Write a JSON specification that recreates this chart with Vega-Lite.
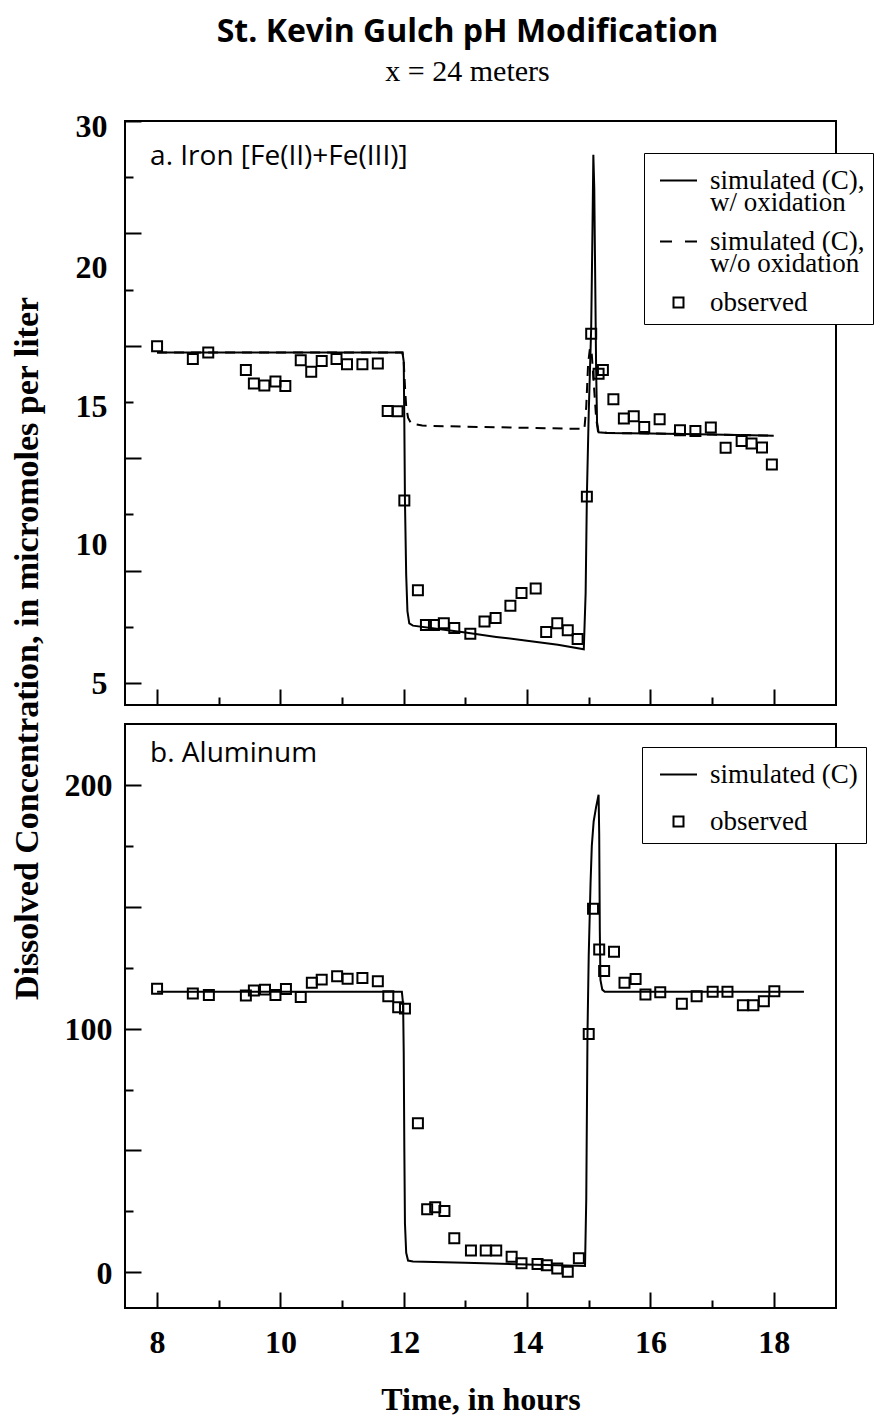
{
  "$schema": "https://vega.github.io/schema/vega-lite/v6.json",
  "background": "white",
  "padding": {"left": 8, "right": 0, "top": 16, "bottom": 5},
  "bounds": "flush",
  "resolve": {"scale": {"shape": "independent"}, "legend": {"shape": "independent"}},
  "title": {
    "text": "St. Kevin Gulch pH Modification",
    "subtitle": "x = 24 meters",
    "anchor": "middle",
    "frame": "group",
    "dx": -13,
    "font": "Open Sans",
    "fontSize": 32,
    "fontWeight": "bold",
    "color": "black",
    "subtitleFont": "Liberation Serif",
    "subtitleFontSize": 30,
    "subtitleColor": "black",
    "subtitlePadding": 8,
    "offset": 21
  },
  "datasets": {
    "fe_sim": [
      {"t": 8, "v": 19.7, "s": "w/ oxidation"},
      {"t": 9, "v": 19.7, "s": "w/ oxidation"},
      {"t": 10, "v": 19.7, "s": "w/ oxidation"},
      {"t": 11, "v": 19.7, "s": "w/ oxidation"},
      {"t": 11.98, "v": 19.7, "s": "w/ oxidation"},
      {"t": 12.0, "v": 19.3, "s": "w/ oxidation"},
      {"t": 12.01, "v": 16.5, "s": "w/ oxidation"},
      {"t": 12.02, "v": 13.1, "s": "w/ oxidation"},
      {"t": 12.04, "v": 9.8, "s": "w/ oxidation"},
      {"t": 12.06, "v": 8.2, "s": "w/ oxidation"},
      {"t": 12.09, "v": 7.65, "s": "w/ oxidation"},
      {"t": 12.15, "v": 7.55, "s": "w/ oxidation"},
      {"t": 12.5, "v": 7.42, "s": "w/ oxidation"},
      {"t": 13, "v": 7.25, "s": "w/ oxidation"},
      {"t": 13.5, "v": 7.05, "s": "w/ oxidation"},
      {"t": 14, "v": 6.88, "s": "w/ oxidation"},
      {"t": 14.5, "v": 6.7, "s": "w/ oxidation"},
      {"t": 14.92, "v": 6.5, "s": "w/ oxidation"},
      {"t": 14.95, "v": 9.0, "s": "w/ oxidation"},
      {"t": 14.97, "v": 13.3, "s": "w/ oxidation"},
      {"t": 15.0, "v": 17.0, "s": "w/ oxidation"},
      {"t": 15.04, "v": 20.8, "s": "w/ oxidation"},
      {"t": 15.06, "v": 25.0, "s": "w/ oxidation"},
      {"t": 15.075, "v": 28.5, "s": "w/ oxidation"},
      {"t": 15.09, "v": 27.0, "s": "w/ oxidation"},
      {"t": 15.105, "v": 23.0, "s": "w/ oxidation"},
      {"t": 15.12, "v": 19.0, "s": "w/ oxidation"},
      {"t": 15.135, "v": 16.6, "s": "w/ oxidation"},
      {"t": 15.16, "v": 16.15, "s": "w/ oxidation"},
      {"t": 15.3, "v": 16.12, "s": "w/ oxidation"},
      {"t": 16, "v": 16.1, "s": "w/ oxidation"},
      {"t": 17, "v": 16.05, "s": "w/ oxidation"},
      {"t": 18, "v": 16.0, "s": "w/ oxidation"},
      {"t": 8, "v": 19.7, "s": "w/o oxidation"},
      {"t": 11.98, "v": 19.7, "s": "w/o oxidation"},
      {"t": 12.0, "v": 19.3, "s": "w/o oxidation"},
      {"t": 12.02, "v": 18.2, "s": "w/o oxidation"},
      {"t": 12.04, "v": 17.3, "s": "w/o oxidation"},
      {"t": 12.07, "v": 16.8, "s": "w/o oxidation"},
      {"t": 12.12, "v": 16.55, "s": "w/o oxidation"},
      {"t": 12.3, "v": 16.45, "s": "w/o oxidation"},
      {"t": 13, "v": 16.4, "s": "w/o oxidation"},
      {"t": 14, "v": 16.35, "s": "w/o oxidation"},
      {"t": 14.93, "v": 16.3, "s": "w/o oxidation"},
      {"t": 14.96, "v": 17.3, "s": "w/o oxidation"},
      {"t": 14.99, "v": 19.2, "s": "w/o oxidation"},
      {"t": 15.02, "v": 19.9, "s": "w/o oxidation"},
      {"t": 15.05, "v": 19.6, "s": "w/o oxidation"},
      {"t": 15.09, "v": 18.0, "s": "w/o oxidation"},
      {"t": 15.12, "v": 16.8, "s": "w/o oxidation"},
      {"t": 15.15, "v": 16.2, "s": "w/o oxidation"},
      {"t": 15.3, "v": 16.12, "s": "w/o oxidation"},
      {"t": 16, "v": 16.1, "s": "w/o oxidation"},
      {"t": 17, "v": 16.05, "s": "w/o oxidation"},
      {"t": 18, "v": 16.0, "s": "w/o oxidation"}
    ],
    "fe_obs": [
      {"t": 8.0, "v": 19.98, "s": "observed"},
      {"t": 8.58, "v": 19.41, "s": "observed"},
      {"t": 8.83, "v": 19.7, "s": "observed"},
      {"t": 9.44, "v": 18.92, "s": "observed"},
      {"t": 9.57, "v": 18.32, "s": "observed"},
      {"t": 9.74, "v": 18.23, "s": "observed"},
      {"t": 9.92, "v": 18.41, "s": "observed"},
      {"t": 10.08, "v": 18.21, "s": "observed"},
      {"t": 10.33, "v": 19.36, "s": "observed"},
      {"t": 10.5, "v": 18.84, "s": "observed"},
      {"t": 10.67, "v": 19.32, "s": "observed"},
      {"t": 10.91, "v": 19.41, "s": "observed"},
      {"t": 11.08, "v": 19.18, "s": "observed"},
      {"t": 11.33, "v": 19.18, "s": "observed"},
      {"t": 11.58, "v": 19.21, "s": "observed"},
      {"t": 11.74, "v": 17.1, "s": "observed"},
      {"t": 11.9, "v": 17.09, "s": "observed"},
      {"t": 12.01, "v": 13.12, "s": "observed"},
      {"t": 12.23, "v": 9.12, "s": "observed"},
      {"t": 12.36, "v": 7.58, "s": "observed"},
      {"t": 12.49, "v": 7.58, "s": "observed"},
      {"t": 12.65, "v": 7.66, "s": "observed"},
      {"t": 12.82, "v": 7.45, "s": "observed"},
      {"t": 13.08, "v": 7.19, "s": "observed"},
      {"t": 13.31, "v": 7.73, "s": "observed"},
      {"t": 13.49, "v": 7.89, "s": "observed"},
      {"t": 13.73, "v": 8.43, "s": "observed"},
      {"t": 13.91, "v": 9.0, "s": "observed"},
      {"t": 14.14, "v": 9.2, "s": "observed"},
      {"t": 14.31, "v": 7.27, "s": "observed"},
      {"t": 14.49, "v": 7.66, "s": "observed"},
      {"t": 14.66, "v": 7.35, "s": "observed"},
      {"t": 14.82, "v": 6.96, "s": "observed"},
      {"t": 14.97, "v": 13.29, "s": "observed"},
      {"t": 15.04, "v": 20.54, "s": "observed"},
      {"t": 15.16, "v": 18.76, "s": "observed"},
      {"t": 15.23, "v": 18.92, "s": "observed"},
      {"t": 15.4, "v": 17.62, "s": "observed"},
      {"t": 15.57, "v": 16.76, "s": "observed"},
      {"t": 15.73, "v": 16.87, "s": "observed"},
      {"t": 15.9, "v": 16.39, "s": "observed"},
      {"t": 16.15, "v": 16.73, "s": "observed"},
      {"t": 16.48, "v": 16.24, "s": "observed"},
      {"t": 16.73, "v": 16.21, "s": "observed"},
      {"t": 16.98, "v": 16.36, "s": "observed"},
      {"t": 17.22, "v": 15.46, "s": "observed"},
      {"t": 17.48, "v": 15.76, "s": "observed"},
      {"t": 17.64, "v": 15.65, "s": "observed"},
      {"t": 17.81, "v": 15.48, "s": "observed"},
      {"t": 17.97, "v": 14.72, "s": "observed"}
    ],
    "al_sim": [
      {"t": 8, "v": 115.1, "s": "simulated"},
      {"t": 11.97, "v": 115.1, "s": "simulated"},
      {"t": 11.99, "v": 110, "s": "simulated"},
      {"t": 12.0, "v": 90, "s": "simulated"},
      {"t": 12.01, "v": 50, "s": "simulated"},
      {"t": 12.02, "v": 20, "s": "simulated"},
      {"t": 12.04, "v": 8, "s": "simulated"},
      {"t": 12.07, "v": 4.8, "s": "simulated"},
      {"t": 12.15, "v": 4.4, "s": "simulated"},
      {"t": 13, "v": 3.9, "s": "simulated"},
      {"t": 14, "v": 3.2, "s": "simulated"},
      {"t": 14.94, "v": 2.6, "s": "simulated"},
      {"t": 14.96, "v": 30, "s": "simulated"},
      {"t": 14.98, "v": 98, "s": "simulated"},
      {"t": 15.0, "v": 130, "s": "simulated"},
      {"t": 15.03, "v": 160, "s": "simulated"},
      {"t": 15.05, "v": 175, "s": "simulated"},
      {"t": 15.08, "v": 185, "s": "simulated"},
      {"t": 15.12, "v": 191, "s": "simulated"},
      {"t": 15.16, "v": 196, "s": "simulated"},
      {"t": 15.17, "v": 180, "s": "simulated"},
      {"t": 15.18, "v": 140, "s": "simulated"},
      {"t": 15.19, "v": 120, "s": "simulated"},
      {"t": 15.22, "v": 116, "s": "simulated"},
      {"t": 15.26, "v": 115.1, "s": "simulated"},
      {"t": 18.49, "v": 115.1, "s": "simulated"}
    ],
    "al_obs": [
      {"t": 8.0, "v": 116.4, "s": "observed"},
      {"t": 8.58, "v": 114.4, "s": "observed"},
      {"t": 8.84, "v": 113.8, "s": "observed"},
      {"t": 9.44, "v": 113.6, "s": "observed"},
      {"t": 9.57, "v": 115.6, "s": "observed"},
      {"t": 9.75, "v": 116.0, "s": "observed"},
      {"t": 9.92, "v": 113.8, "s": "observed"},
      {"t": 10.09, "v": 116.3, "s": "observed"},
      {"t": 10.33, "v": 113.0, "s": "observed"},
      {"t": 10.51, "v": 118.8, "s": "observed"},
      {"t": 10.67, "v": 120.1, "s": "observed"},
      {"t": 10.92, "v": 121.5, "s": "observed"},
      {"t": 11.09, "v": 120.5, "s": "observed"},
      {"t": 11.33, "v": 120.8, "s": "observed"},
      {"t": 11.58, "v": 119.4, "s": "observed"},
      {"t": 11.75, "v": 113.3, "s": "observed"},
      {"t": 11.91, "v": 108.8, "s": "observed"},
      {"t": 12.02, "v": 108.2, "s": "observed"},
      {"t": 12.23, "v": 61.2, "s": "observed"},
      {"t": 12.38, "v": 25.9, "s": "observed"},
      {"t": 12.51, "v": 26.7, "s": "observed"},
      {"t": 12.66, "v": 25.2, "s": "observed"},
      {"t": 12.82, "v": 14.0, "s": "observed"},
      {"t": 13.09, "v": 8.9, "s": "observed"},
      {"t": 13.33, "v": 8.9, "s": "observed"},
      {"t": 13.5, "v": 8.9, "s": "observed"},
      {"t": 13.75, "v": 6.4, "s": "observed"},
      {"t": 13.91, "v": 3.7, "s": "observed"},
      {"t": 14.17, "v": 3.4, "s": "observed"},
      {"t": 14.32, "v": 2.9, "s": "observed"},
      {"t": 14.49, "v": 1.6, "s": "observed"},
      {"t": 14.66, "v": 0.2, "s": "observed"},
      {"t": 14.84, "v": 5.8, "s": "observed"},
      {"t": 15.0, "v": 97.8, "s": "observed"},
      {"t": 15.07, "v": 149.2, "s": "observed"},
      {"t": 15.17, "v": 132.5, "s": "observed"},
      {"t": 15.25, "v": 123.6, "s": "observed"},
      {"t": 15.41, "v": 131.5, "s": "observed"},
      {"t": 15.58, "v": 118.8, "s": "observed"},
      {"t": 15.76, "v": 120.4, "s": "observed"},
      {"t": 15.92, "v": 114.0, "s": "observed"},
      {"t": 16.16, "v": 114.9, "s": "observed"},
      {"t": 16.51, "v": 110.2, "s": "observed"},
      {"t": 16.75, "v": 113.3, "s": "observed"},
      {"t": 17.01, "v": 115.1, "s": "observed"},
      {"t": 17.25, "v": 115.1, "s": "observed"},
      {"t": 17.5, "v": 109.6, "s": "observed"},
      {"t": 17.67, "v": 109.6, "s": "observed"},
      {"t": 17.84, "v": 111.2, "s": "observed"},
      {"t": 18.01, "v": 115.3, "s": "observed"}
    ]
  },
  "spacing": 19,
  "vconcat": [
    {
      "width": 711,
      "height": 584,
      "layer": [
        {
          "data": {"name": "fe_sim"},
          "transform": [{"filter": "datum.s === 'w/o oxidation'"}],
          "mark": {"type": "line", "strokeWidth": 2, "color": "black", "strokeDash": [10, 7]},
          "encoding": {
            "x": {
              "field": "t", "type": "quantitative",
              "scale": {"domain": [7.48, 19.01], "nice": false, "zero": false},
              "axis": {
                "values": [8, 9, 10, 11, 12, 13, 14, 15, 16, 17, 18],
                "labels": false, "title": null,
                "tickSize": {"expr": "datum.value % 2 === 0 ? -16 : -8"}
              }
            },
            "y": {
              "field": "v", "type": "quantitative",
              "scale": {"domain": [4.02, 30], "nice": false, "zero": false},
              "axis": {
                "values": [5, 7.5, 10, 12.5, 15, 17.5, 20, 22.5, 25, 27.5, 30],
                "labelExpr": "datum.value === 5 ? '5' : datum.value === 10 ? '10' : datum.value === 17.5 ? '15' : datum.value === 22.5 ? '20' : datum.value === 30 ? '30' : ''",
                "tickSize": {"expr": "datum.value % 5 === 0 ? -16 : -8"},
                "labelPadding": {"expr": "datum.value % 5 === 0 ? 34 : 26"},
                "labelOffset": {"expr": "datum.value === 10 ? -26 : datum.value === 22.5 ? -22 : datum.value === 5 ? 1 : 5"},
                "title": "Dissolved Concentration, in micromoles per liter",
                "titleFontSize": 34,
                "titleX": -98, "titleY": 527, "titleAngle": 270, "titleAlign": "center", "titleBaseline": "middle"
              }
            }
          }
        },
        {
          "data": {"name": "fe_sim"},
          "transform": [{"filter": "datum.s === 'w/ oxidation'"}],
          "mark": {"type": "line", "strokeWidth": 2, "color": "black"},
          "encoding": {
            "x": {"field": "t", "type": "quantitative"},
            "y": {"field": "v", "type": "quantitative"}
          }
        },
        {
          "data": {"name": "fe_obs"},
          "mark": {"type": "point", "filled": false, "color": "black", "strokeWidth": 2, "opacity": 1, "size": 1369},
          "encoding": {
            "x": {"field": "t", "type": "quantitative"},
            "y": {"field": "v", "type": "quantitative"},
            "shape": {
              "field": "s", "type": "nominal",
              "scale": {
                "domain": ["w/ oxidation", "w/o oxidation", "observed"],
                "range": ["M-1,0H1", "M-1,0H-0.35M0.35,0H1", "M-0.27,-0.27H0.27V0.27H-0.27Z"]
              },
              "legend": {
                "title": null, "orient": "none", "legendX": 519, "legendY": 32,
                "labelExpr": "datum.value === 'w/ oxidation' ? ['simulated (C),', 'w/ oxidation'] : datum.value === 'w/o oxidation' ? ['simulated (C),', 'w/o oxidation'] : 'observed'",
                "padding": 8, "rowPadding": 6, "symbolOffset": 7, "labelOffset": 12, "symbolSize": 1369
              }
            }
          }
        },
        {
          "data": {"values": [{"label": "a. Iron [Fe(II)+Fe(III)]"}]},
          "mark": {"type": "text", "align": "left", "baseline": "middle", "font": "Open Sans", "fontSize": 28, "color": "black"},
          "encoding": {
            "x": {"datum": 7.887, "type": "quantitative"},
            "y": {"datum": 28.38, "type": "quantitative"},
            "text": {"field": "label", "type": "nominal"}
          }
        }
      ]
    },
    {
      "width": 711,
      "height": 584,
      "layer": [
        {
          "data": {"name": "al_sim"},
          "mark": {"type": "line", "strokeWidth": 2, "color": "black"},
          "encoding": {
            "x": {
              "field": "t", "type": "quantitative",
              "scale": {"domain": [7.48, 19.01], "nice": false, "zero": false},
              "axis": {
                "values": [8, 9, 10, 11, 12, 13, 14, 15, 16, 17, 18],
                "labelExpr": "datum.value % 2 === 0 ? '' + datum.value : ''",
                "tickSize": {"expr": "datum.value % 2 === 0 ? -16 : -8"},
                "labelPadding": {"expr": "datum.value % 2 === 0 ? 35 : 27"},
                "title": "Time, in hours", "titlePadding": 26, "titleFontSize": 32
              }
            },
            "y": {
              "field": "v", "type": "quantitative",
              "scale": {"domain": [-14.65, 225], "nice": false, "zero": false},
              "axis": {
                "values": [0, 25, 50, 75, 100, 125, 150, 175, 200],
                "labelExpr": "datum.value % 100 === 0 ? '' + datum.value : ''",
                "tickSize": {"expr": "datum.value % 50 === 0 ? -16 : -8"},
                "labelPadding": {"expr": "datum.value % 50 === 0 ? 29 : 21"},
                "labelOffset": 1,
                "title": null
              }
            }
          }
        },
        {
          "data": {"name": "al_obs"},
          "mark": {"type": "point", "filled": false, "color": "black", "strokeWidth": 2, "opacity": 1, "size": 1369},
          "encoding": {
            "x": {"field": "t", "type": "quantitative"},
            "y": {"field": "v", "type": "quantitative"},
            "shape": {
              "field": "s", "type": "nominal",
              "scale": {
                "domain": ["simulated", "observed"],
                "range": ["M-1,0H1", "M-0.27,-0.27H0.27V0.27H-0.27Z"]
              },
              "legend": {
                "title": null, "orient": "none", "legendX": 517, "legendY": 23,
                "labelExpr": "datum.value === 'simulated' ? 'simulated (C)\u00a0\u00a0' : 'observed'",
                "padding": 8, "rowPadding": 14, "symbolOffset": 9, "labelOffset": 12, "symbolSize": 1369
              }
            }
          }
        },
        {
          "data": {"values": [{"label": "b. Aluminum"}]},
          "mark": {"type": "text", "align": "left", "baseline": "middle", "font": "Open Sans", "fontSize": 28, "color": "black"},
          "encoding": {
            "x": {"datum": 7.887, "type": "quantitative"},
            "y": {"datum": 212.6, "type": "quantitative"},
            "text": {"field": "label", "type": "nominal"}
          }
        }
      ]
    }
  ],
  "config": {
    "view": {"stroke": "black", "strokeWidth": 2},
    "style": {"guide-label": {"lineHeight": 22}},
    "axis": {
      "domain": false, "grid": false, "ticks": true,
      "tickColor": "black", "tickWidth": 2,
      "labelFont": "Liberation Serif", "labelFontWeight": "bold", "labelFontSize": 32, "labelColor": "black",
      "labelFlush": false, "labelOverlap": false, "labelBound": false,
      "titleFont": "Liberation Serif", "titleFontWeight": "bold", "titleFontSize": 32, "titleColor": "black"
    },
    "legend": {
      "labelFont": "Liberation Serif", "labelFontSize": 27, "labelColor": "black", "labelLimit": 400,
      "symbolStrokeColor": "black", "symbolStrokeWidth": 2, "symbolFillColor": "transparent",
      "strokeColor": "black", "fillColor": "white"
    }
  }
}
